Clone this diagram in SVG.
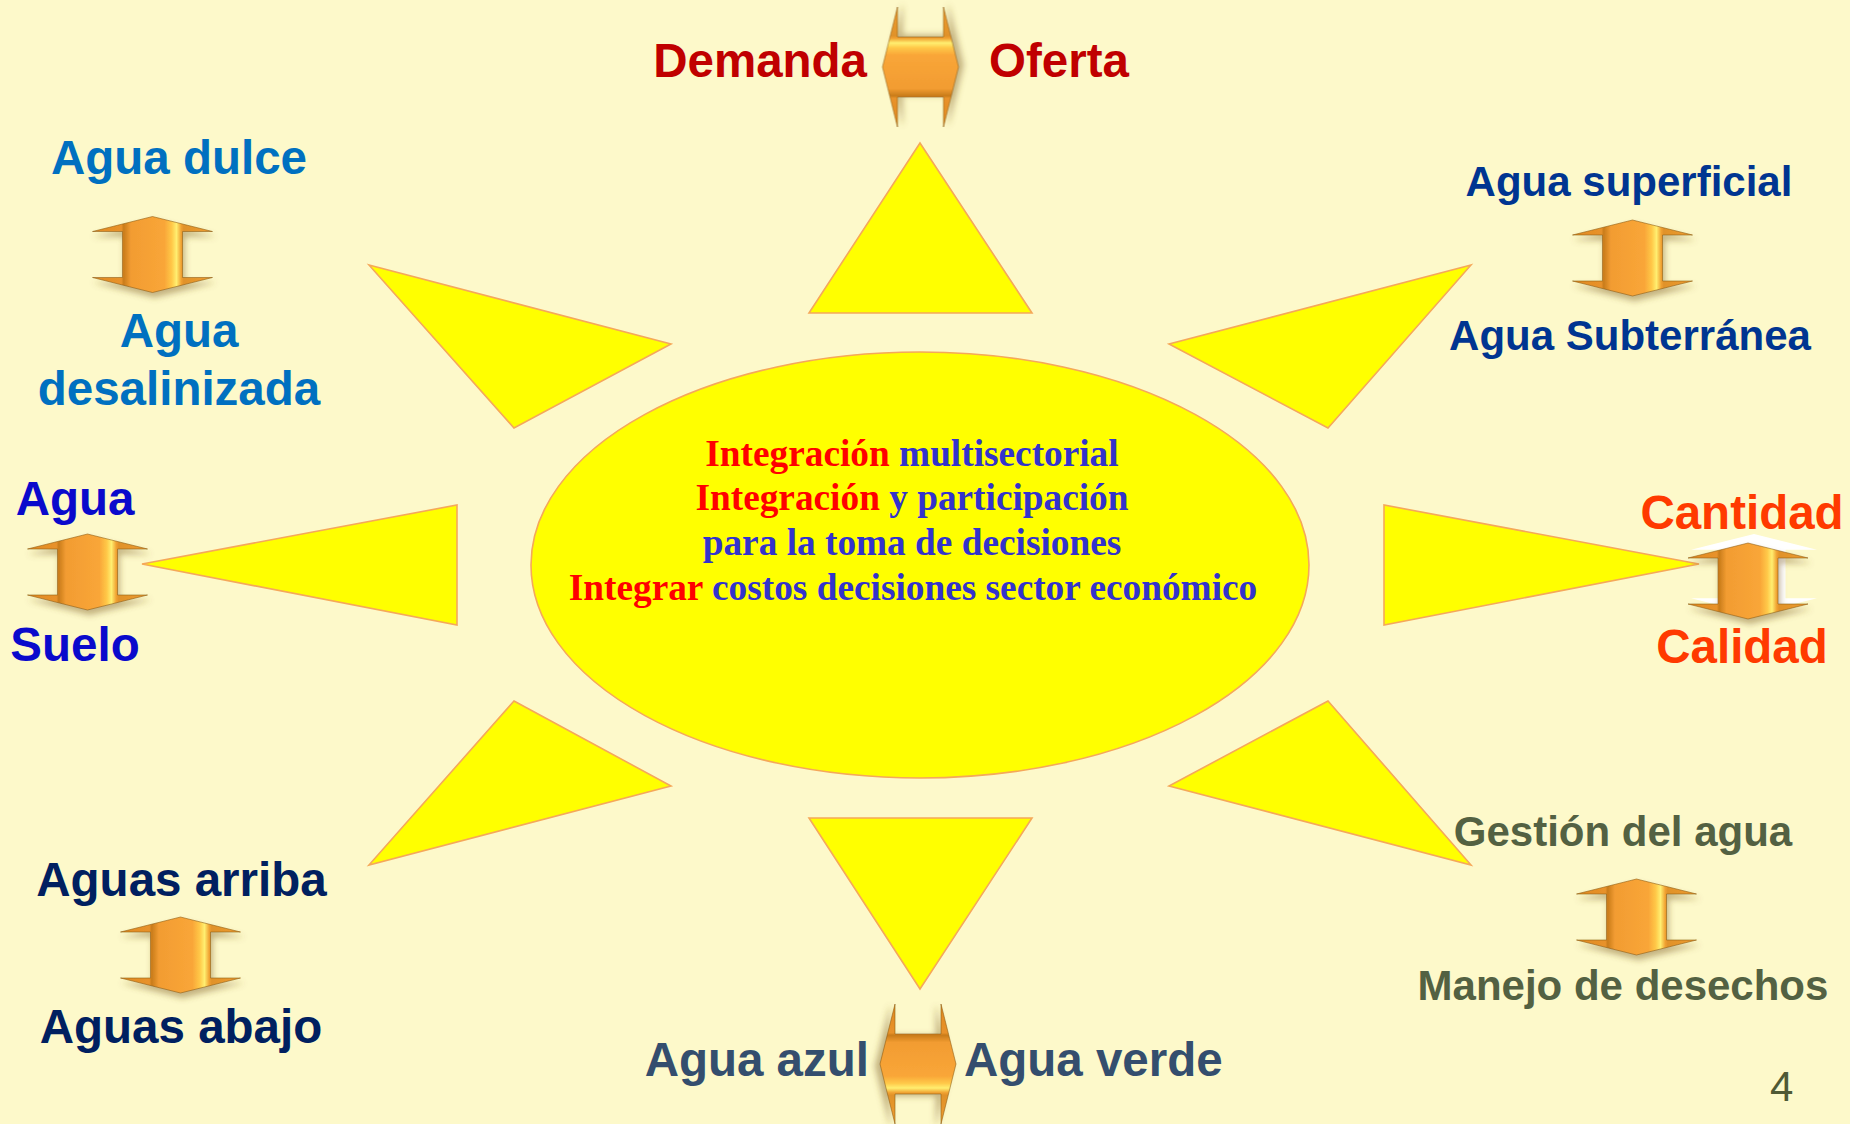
<svg xmlns="http://www.w3.org/2000/svg" xmlns:xlink="http://www.w3.org/1999/xlink" width="1850" height="1124" viewBox="0 0 1850 1124">
<defs>
<style>
.ray{fill:#FFFF00;stroke:#F5A85A;stroke-width:1.6;stroke-linejoin:miter}
.lbl{font-family:"Liberation Sans",Arial,sans-serif;font-weight:bold;font-size:47.5px}
.sm{font-size:42px}
.ctr{font-family:"Liberation Serif","Times New Roman",serif;font-weight:bold;font-size:37.3px;text-anchor:middle}
.r{fill:#FF0000}
.b{fill:#3333CC}
.arr{fill:url(#ag);stroke:#8A5A12;stroke-width:0.8;stroke-opacity:0.7;filter:url(#sh)}
</style>
<linearGradient id="ag" x1="0" y1="0" x2="1" y2="0">
<stop offset="0" stop-color="#E08A22"/>
<stop offset="0.24" stop-color="#E8922A"/>
<stop offset="0.26" stop-color="#C97C1A"/>
<stop offset="0.32" stop-color="#F29C32"/>
<stop offset="0.6" stop-color="#F9A638"/>
<stop offset="0.66" stop-color="#FFC848"/>
<stop offset="0.7" stop-color="#FFEE70"/>
<stop offset="0.74" stop-color="#F0A030"/>
<stop offset="0.76" stop-color="#E0922A"/>
<stop offset="1" stop-color="#EE9C30"/>
</linearGradient>
<filter id="sh" x="-20%" y="-20%" width="150%" height="150%">
<feDropShadow dx="2" dy="5" stdDeviation="3" flood-color="#7A5A20" flood-opacity="0.45"/>
</filter>
<path id="dar" d="M0,-38 L60,-23 L30,-23 L30,23 L60,23 L0,38 L-60,23 L-30,23 L-30,-23 L-60,-23 Z"/>
</defs>
<rect width="1850" height="1124" fill="#FDF9CA"/>

<g id="rays">
<polygon class="ray" points="920,143 1032,313 809,313"/>
<polygon class="ray" points="809,818 1032,818 920,989"/>
<polygon class="ray" points="457,505 457,625 142,564"/>
<polygon class="ray" points="1384,505 1384,625 1699,564"/>
<polygon class="ray" points="369,265 671,344 514,428"/>
<polygon class="ray" points="1471,265 1169,344 1328,428"/>
<polygon class="ray" points="514,701 671,786 369,865"/>
<polygon class="ray" points="1328,701 1169,786 1471,865"/>
</g>

<g id="center">
<ellipse cx="920" cy="565" rx="389" ry="213" fill="#FFFF00" stroke="#F5A85A" stroke-width="1.6"/>
<text class="ctr" x="912" y="465.5"><tspan class="r">Integración</tspan><tspan class="b"> multisectorial</tspan></text>
<text class="ctr" x="912" y="509.5"><tspan class="r">Integración</tspan><tspan class="b"> y participación</tspan></text>
<text class="ctr b" x="912" y="554.5">para la toma de decisiones</text>
<text class="ctr" x="913" y="599.5"><tspan class="r">Integrar</tspan><tspan class="b"> costos decisiones sector económico</tspan></text>
</g>

<g id="connectors">
<path d="M0,-38 L60,-23 L30,-23 L30,23 L60,23 L0,38 L-60,23 L-30,23 L-30,-23 L-60,-23 Z" transform="translate(1754,574) scale(1.05)" fill="#FFFFFF"/>
<use xlink:href="#dar" class="arr" transform="translate(152.5,254.5)"/>
<use xlink:href="#dar" class="arr" transform="translate(1632.5,258)"/>
<use xlink:href="#dar" class="arr" transform="translate(1636.5,917)"/>
<use xlink:href="#dar" class="arr" transform="translate(180.5,955)"/>
<use xlink:href="#dar" class="arr" transform="translate(87.5,572)"/>
<use xlink:href="#dar" class="arr" transform="translate(1748,581)"/>
<use xlink:href="#dar" class="arr" transform="translate(920.5,67) rotate(-90)"/>
<use xlink:href="#dar" class="arr" transform="translate(918,1064) rotate(90)"/>
</g>

<g id="node-demanda-oferta">
<text class="lbl" x="867" y="77" text-anchor="end" fill="#C00000">Demanda</text>
<text class="lbl" x="989" y="77" fill="#C00000">Oferta</text>
</g>
<g id="node-agua-dulce">
<text class="lbl" x="179" y="174" text-anchor="middle" fill="#0070C0">Agua dulce</text>
<text class="lbl" x="179" y="347" text-anchor="middle" fill="#0070C0">Agua</text>
<text class="lbl" x="179" y="405" text-anchor="middle" fill="#0070C0">desalinizada</text>
</g>
<g id="node-agua-superficial">
<text class="lbl sm" x="1629" y="195.5" text-anchor="middle" fill="#003591">Agua superficial</text>
<text class="lbl sm" x="1630" y="349.5" text-anchor="middle" fill="#003591">Agua Subterránea</text>
</g>
<g id="node-agua-suelo">
<text class="lbl" x="75" y="515" text-anchor="middle" fill="#0A0ACC">Agua</text>
<text class="lbl" x="75" y="661" text-anchor="middle" fill="#0A0ACC">Suelo</text>
</g>
<g id="node-cantidad-calidad">
<text class="lbl" x="1742" y="529" text-anchor="middle" fill="#FF3A00">Cantidad</text>
<text class="lbl" x="1742" y="663" text-anchor="middle" fill="#FF3A00">Calidad</text>
</g>
<g id="node-gestion">
<text class="lbl sm" x="1623" y="845.5" text-anchor="middle" fill="#536142">Gestión del agua</text>
<text class="lbl sm" x="1623" y="999.5" text-anchor="middle" fill="#536142">Manejo de desechos</text>
</g>
<g id="node-aguas-arriba">
<text class="lbl" x="181.5" y="896" text-anchor="middle" fill="#002060">Aguas arriba</text>
<text class="lbl" x="181" y="1043" text-anchor="middle" fill="#002060">Aguas abajo</text>
</g>
<g id="node-agua-azul-verde">
<text class="lbl" x="869" y="1076" text-anchor="end" fill="#344E6E">Agua azul</text>
<text class="lbl" x="964" y="1076" fill="#344E6E">Agua verde</text>
</g>
<text x="1770" y="1101" font-family="Liberation Sans,Arial,sans-serif" font-size="42" fill="#4F5A35">4</text>
</svg>
